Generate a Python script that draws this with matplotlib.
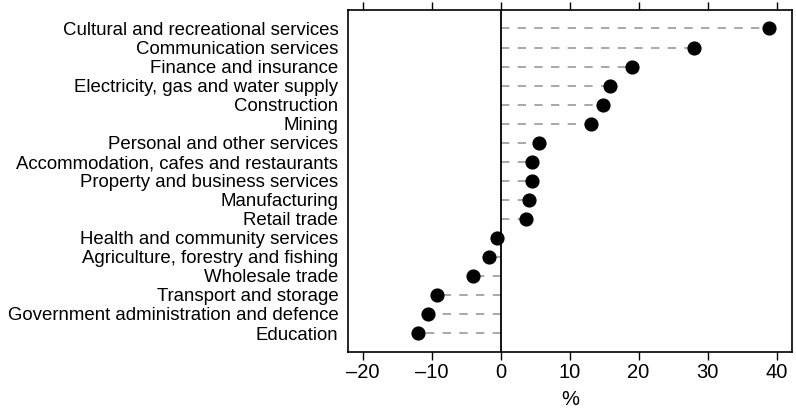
import matplotlib
matplotlib.use("Agg")
import matplotlib.pyplot as plt
from matplotlib import font_manager

industries = [
    "Cultural and recreational services",
    "Communication services",
    "Finance and insurance",
    "Electricity, gas and water supply",
    "Construction",
    "Mining",
    "Personal and other services",
    "Accommodation, cafes and restaurants",
    "Property and business services",
    "Manufacturing",
    "Retail trade",
    "Health and community services",
    "Agriculture, forestry and fishing",
    "Wholesale trade",
    "Transport and storage",
    "Government administration and defence",
    "Education",
]
change = [38.9, 28.0, 19.0, 15.8, 14.8, 13.1, 5.6, 4.5, 4.5, 4.1, 3.75,
          -0.5, -1.6, -4.05, -9.25, -10.5, -12.0]
xticks = [-20, -10, 0, 10, 20, 30, 40]

names = [f.name for f in font_manager.fontManager.ttflist]
fam = "Liberation Sans Narrow" if "Liberation Sans Narrow" in names else "Liberation Sans"
plt.rcParams['font.family'] = [fam, 'DejaVu Sans']

fig = plt.figure(figsize=(7.96, 4.12), dpi=100)
ax = fig.add_axes([0.4372, 0.1464, 0.5574, 0.8293])

n = len(industries)
ypos = list(range(n))
for y, v in zip(ypos, change):
    ax.plot([0, v], [y, y], color="#999999", lw=1.2, dashes=(5, 5), zorder=1)
ax.axvline(0, color="black", lw=1.3, zorder=2)
ax.plot(change, ypos, "o", color="black", ms=9.2, zorder=3)

ax.set_xlim(-22.1, 42.2)
ax.set_ylim(n - 1 + 0.98, -0.97)
ax.set_yticks(ypos)
ax.set_yticklabels(industries, fontsize=13.4)
ax.tick_params(axis="y", length=0, pad=7)
ax.set_xticks(xticks)
ax.set_xticklabels([str(t).replace("-", "\u2013") for t in xticks], fontsize=14.5)
ax.tick_params(axis="x", direction="out", length=6, width=1, top=True,
               labeltop=False, pad=2)
ax.set_xlabel("%", fontsize=14.5, labelpad=6)
for s in ax.spines.values():
    s.set_linewidth(1.2)

fig.savefig("out.png", dpi=100)
